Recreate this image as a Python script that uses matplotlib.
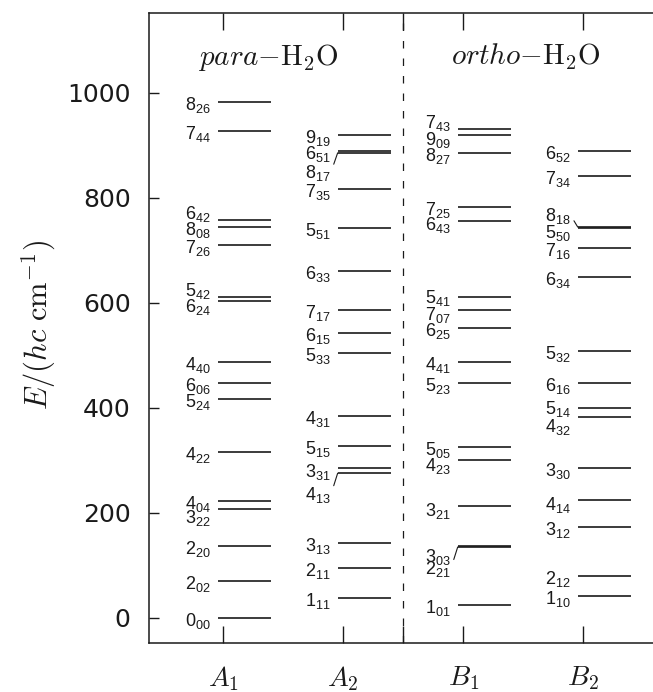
import matplotlib
matplotlib.use('Agg')
import matplotlib.pyplot as plt

plt.rcParams['mathtext.fontset'] = 'custom'
plt.rcParams['mathtext.rm'] = 'Liberation Sans'
plt.rcParams['mathtext.it'] = 'Liberation Sans:italic'

# rotational levels J Ka Kc and their energies (cm^-1), one list per symmetry column
a1_levels = ['000', '202', '220', '322', '404', '422', '524', '606',
             '440', '624', '542', '726', '808', '642', '744', '826']
a1_energy = [0.0, 70.1, 136.2, 206.3, 222.1, 315.8, 416.2, 446.7,
             488.1, 602.8, 610.1, 709.6, 744.1, 757.8, 927.7, 982.9]

a2_levels = ['111', '211', '313', '413', '331', '515', '431', '533',
             '615', '717', '633', '551', '735', '817', '651', '919']
a2_energy = [37.1, 95.2, 142.3, 275.5, 285.2, 326.6, 383.8, 504.0,
             542.9, 586.5, 661.5, 742.1, 816.7, 885.6, 888.6, 920.2]

b1_levels = ['101', '221', '303', '321', '423', '505', '523', '441',
             '625', '707', '541', '643', '725', '827', '909', '743']
b1_energy = [23.8, 134.9, 136.8, 212.2, 300.4, 325.3, 446.5, 488.1,
             552.9, 586.2, 610.3, 756.7, 782.4, 885.6, 920.2, 931.2]

b2_levels = ['110', '212', '312', '414', '330', '432', '514', '616',
             '532', '634', '716', '550', '818', '734', '652']
b2_energy = [42.4, 79.5, 173.4, 224.8, 285.4, 382.5, 399.5, 447.3,
             508.8, 649.0, 704.2, 742.1, 744.2, 842.4, 888.6]

columns = [(a1_levels, a1_energy), (a2_levels, a2_energy),
           (b1_levels, b1_energy), (b2_levels, b2_energy)]
sym_labels = [r'$A_1$', r'$A_2$', '', r'$B_1$', r'$B_2$']

# label nudges (pixels, downwards) where labels crowd, and labels tied to their line
nudge = {'642': -9, '542': -9, '624': 2.5, '322': 6,
         '817': 17, '413': 19, '331': 1,
         '743': -9, '909': 2.5, '643': 1.5, '707': 1.5, '423': 3, '321': 1.8,
         '303': 8, '221': 19, '541': -2.5,
         '818': -14.5, '550': 1.8, '432': 7, '514': -2.5, '414': 1.8}
linked = ['817', '413', '221', '818']

ink = '#1a1a1a'
fig = plt.figure(figsize=(6.53, 6.92), dpi=100)
ax = fig.add_axes([148.6 / 653, 49 / 692, 509 / 653, 630 / 692])
ax.set_xlim(0.38, 4.62)
ax.set_ylim(-48, 1152)

for x, (names, energy) in enumerate(columns, start=1):
    for name, e in zip(names, energy):
        ax.plot([x - 0.045, x + 0.40], [e, e], color=ink, lw=1.2,
                solid_capstyle='butt')
        dy = -(8.0 + nudge.get(name, 0)) * 0.72
        txt = r'$\mathrm{%s_{%s}}$' % (name[0], name[1:])
        arrow = None
        if name in linked:
            arrow = dict(arrowstyle='-', lw=0.8, color=ink, shrinkA=0.5,
                         shrinkB=0, relpos=(1.0, 0.5))
        ax.annotate(txt, xy=(x - 0.045, e), xytext=(-5.0, dy),
                    textcoords='offset points', ha='right', va='baseline',
                    fontsize=13, color=ink, arrowprops=arrow)

ax.axvline(2.5, color=ink, lw=0.9, ls=(0, (6, 8)))

ax.text(1.38, 1053, r'$\mathit{para}{-}\mathrm{H_2O}$', ha='center',
        va='baseline', fontsize=21, math_fontfamily='cm', color=ink)
ax.text(3.52, 1053, r'$\mathit{ortho}{-}\mathrm{H_2O}$', ha='center',
        va='baseline', fontsize=21, math_fontfamily='cm', color=ink)

ax.set_yticks([0, 200, 400, 600, 800, 1000])
ax.tick_params(axis='y', direction='in', length=7, width=1, labelsize=18,
               pad=13, colors=ink)
ax.set_xticks([1, 2, 2.5, 3, 4])
ax.set_xticklabels(sym_labels, fontsize=20, math_fontfamily='cm')
ax.tick_params(axis='x', direction='in', length=12, width=1, pad=15,
               top=True, colors=ink)
for side in ['left', 'top', 'bottom']:
    ax.spines[side].set_linewidth(1.1)
    ax.spines[side].set_color(ink)
ax.spines['right'].set_visible(False)

ax.text(-0.215, 0.505, r'$E/(hc\ \mathrm{cm}^{-1})$', transform=ax.transAxes,
        rotation=90, ha='center', va='center', fontsize=22,
        math_fontfamily='cm', color=ink)

fig.savefig('out.png', dpi=100)
